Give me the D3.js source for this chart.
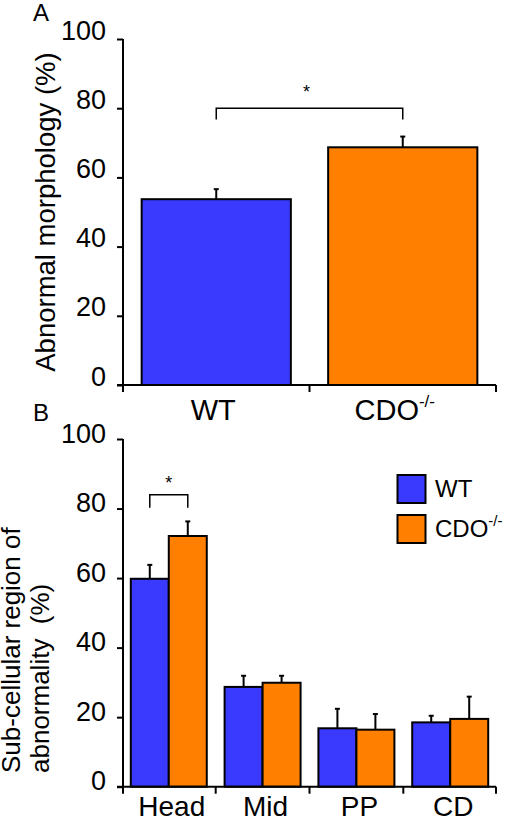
<!DOCTYPE html>
<html><head><meta charset="utf-8">
<script src="https://cdn.jsdelivr.net/npm/d3@7"></script>
<style>body{margin:0;background:#fff}text{font-family:"Liberation Sans",Arial,sans-serif;fill:#000}</style>
</head><body><svg id="c" width="509" height="820"></svg>
<script>
// Panel A data
const groupsA = ["WT", "CDO"];
const valuesA = [53.7, 68.7];
const errorsA = [2.9, 3.1];
// Panel B data
const categoriesB = ["Head", "Mid", "PP", "CD"];
const seriesB = ["WT", "CDO"];
const wtB = [59.8, 28.7, 16.8, 18.5];
const cdoB = [72.1, 29.9, 16.4, 19.5];
const wtErrB = [4.0, 3.2, 5.6, 1.9];
const cdoErrB = [4.2, 2.0, 4.5, 6.4];
const yTicks = [0, 20, 40, 60, 80, 100];
const colors = {WT: "#3a3aff", CDO: "#ff8000"};

const svg = d3.select("#c");

function supLabel(sel, base, sup, supSize) {
  sel.text(null);
  sel.append("tspan").text(base);
  if (sup) sel.append("tspan").attr("font-size", supSize).attr("dy", -supSize * 0.75).text(sup);
}

function yAxis(y, labelDy, x0, bottomExt) {
  const g = svg.append("g").attr("transform", `translate(${x0},0)`)
    .call(d3.axisLeft(y).tickValues(yTicks).tickSize(6).tickSizeOuter(0).tickPadding(11));
  g.select(".domain").remove();
  g.selectAll(".tick line").attr("stroke", "#000").attr("stroke-width", 2);
  g.selectAll(".tick text").attr("font-size", 27).attr("dy", labelDy)
    .attr("font-family", "Liberation Sans, Arial, sans-serif");
  svg.append("line").attr("x1", x0).attr("x2", x0).attr("y1", y(100)).attr("y2", y(0) + bottomExt)
    .attr("stroke", "#000").attr("stroke-width", 2);
}

// ---------- Panel A ----------
const xA = d3.scaleBand().domain(groupsA).range([123, 496]).paddingInner(0.2).paddingOuter(0.1);
const yA = d3.scaleLinear().domain([0, 100]).range([385, 39]);

groupsA.forEach((g, i) => {
  const cx = xA(g) + xA.bandwidth() / 2;
  svg.append("line").attr("x1", cx).attr("x2", cx).attr("y1", yA(valuesA[i])).attr("y2", yA(valuesA[i] + errorsA[i]))
    .attr("stroke", "#000").attr("stroke-width", 2);
  svg.append("line").attr("x1", cx - 2.5).attr("x2", cx + 2.5).attr("y1", yA(valuesA[i] + errorsA[i])).attr("y2", yA(valuesA[i] + errorsA[i]))
    .attr("stroke", "#000").attr("stroke-width", 2);
});
svg.append("g").selectAll("rect").data(groupsA).join("rect")
  .attr("x", d => xA(d)).attr("width", xA.bandwidth())
  .attr("y", (d, i) => yA(valuesA[i])).attr("height", (d, i) => yA(0) - yA(valuesA[i]))
  .attr("fill", d => colors[d]).attr("stroke", "#000").attr("stroke-width", 2);

yAxis(yA, "0em", 123, 7);
svg.append("line").attr("x1", 117).attr("x2", 496).attr("y1", yA(0)).attr("y2", yA(0)).attr("stroke", "#000").attr("stroke-width", 2);
[...groupsA.map(g => xA(g) - xA.step() * xA.paddingInner() / 2), 496].forEach((b, i) => {
  if (i === 0) return;
  svg.append("line").attr("x1", b).attr("x2", b).attr("y1", yA(0)).attr("y2", yA(0) + 7).attr("stroke", "#000").attr("stroke-width", 2);
});
const xLabA = ["WT", "CDO"];
const supA = ["", "-/-"];
xLabA.forEach((t, i) => {
  const tx = svg.append("text").attr("x", xA(groupsA[i]) + xA.bandwidth() / 2 - (i ? 8 : 3)).attr("y", 420)
    .attr("text-anchor", "middle").attr("font-size", 29);
  supLabel(tx, t, supA[i], 17);
});
// bracket A
(() => {
  const x1 = xA("WT") + xA.bandwidth() / 2, x2 = xA("CDO") + xA.bandwidth() / 2;
  svg.append("path").attr("d", `M${x1},${yA(76.7)}V${yA(80)}H${x2}V${yA(76.7)}`)
    .attr("fill", "none").attr("stroke", "#000").attr("stroke-width", 1.5);
  svg.append("text").attr("x", (x1 + x2) / 2 - 3).attr("y", yA(80) - 10).attr("text-anchor", "middle").attr("font-size", 18).text("*");
})();
svg.append("text").attr("transform", `translate(55,${212}) rotate(-90)`).attr("text-anchor", "middle")
  .attr("font-size", 27.5).text("Abnormal morphology (%)");
svg.append("text").attr("x", 33).attr("y", 21).attr("font-size", 24).text("A");

// ---------- Panel B ----------
const xB = d3.scaleBand().domain(categoriesB).range([123, 496]).paddingInner(0.19).paddingOuter(0.083);
const xSub = d3.scaleBand().domain(seriesB).range([0, xB.bandwidth()]);
const yB = d3.scaleLinear().domain([0, 100]).range([786.7, 439]);
const rowsB = categoriesB.map((c, i) => ({c, vals: [
  {s: "WT", v: wtB[i], e: wtErrB[i]}, {s: "CDO", v: cdoB[i], e: cdoErrB[i]}]}));
const flat = rowsB.flatMap(r => r.vals.map(d => ({...d, c: r.c})));
const gB = svg.append("g");
flat.forEach(d => {
  const cx = xB(d.c) + xSub(d.s) + xSub.bandwidth() / 2;
  gB.append("line").attr("x1", cx).attr("x2", cx).attr("y1", yB(d.v)).attr("y2", yB(d.v + d.e)).attr("stroke", "#000").attr("stroke-width", 2);
  gB.append("line").attr("x1", cx - 2.5).attr("x2", cx + 2.5).attr("y1", yB(d.v + d.e)).attr("y2", yB(d.v + d.e)).attr("stroke", "#000").attr("stroke-width", 2);
});
gB.selectAll("rect").data(flat).join("rect")
  .attr("x", d => xB(d.c) + xSub(d.s)).attr("width", xSub.bandwidth())
  .attr("y", d => yB(d.v)).attr("height", d => yB(0) - yB(d.v))
  .attr("fill", d => colors[d.s]).attr("stroke", "#000").attr("stroke-width", 2);

yAxis(yB, "0.12em", 123, 7);
svg.append("line").attr("x1", 117).attr("x2", 496).attr("y1", yB(0)).attr("y2", yB(0)).attr("stroke", "#000").attr("stroke-width", 2);
categoriesB.forEach((c, i) => {
  const b = i < categoriesB.length - 1 ? xB(categoriesB[i + 1]) - xB.step() * xB.paddingInner() / 2 : 496;
  svg.append("line").attr("x1", b).attr("x2", b).attr("y1", yB(0)).attr("y2", yB(0) + 7).attr("stroke", "#000").attr("stroke-width", 2);
});
const gxB = svg.append("g").attr("transform", `translate(0,${yB(0)})`)
  .call(d3.axisBottom(xB).tickSize(0).tickPadding(0));
gxB.select(".domain").remove();
gxB.selectAll("text").attr("font-size", 28).attr("dy", 0).attr("y", 29.5).attr("dx", 3)
  .attr("font-family", "Liberation Sans, Arial, sans-serif");
// bracket B
(() => {
  const x1 = xB("Head") + xSub("WT") + xSub.bandwidth() / 2, x2 = xB("Head") + xSub("CDO") + xSub.bandwidth() / 2;
  svg.append("path").attr("d", `M${x1},${yB(80.2)}V${yB(84)}H${x2}V${yB(80.2)}`)
    .attr("fill", "none").attr("stroke", "#000").attr("stroke-width", 1.5);
  svg.append("text").attr("x", (x1 + x2) / 2).attr("y", yB(84) - 6).attr("text-anchor", "middle").attr("font-size", 18).text("*");
})();
// y label B
const lb = svg.append("text").attr("transform", "translate(0,773) rotate(-90)").attr("font-size", 26).attr("text-anchor", "start");
lb.append("tspan").attr("x", 0).attr("y", 20).text("Sub-cellular region of");
lb.append("tspan").attr("x", 0).attr("y", 49).attr("xml:space", "preserve").style("white-space", "pre").text("abnormality  (%)");
svg.append("text").attr("x", 33).attr("y", 421).attr("font-size", 24).text("B");
// legend
const legY = [475, 515];
seriesB.forEach((s, i) => {
  svg.append("rect").attr("x", 397.5).attr("y", legY[i]).attr("width", 28).attr("height", 28)
    .attr("fill", colors[s]).attr("stroke", "#000").attr("stroke-width", 2);
  const t = svg.append("text").attr("x", 435).attr("y", legY[i] + 22).attr("font-size", 24);
  supLabel(t, s, i ? "-/-" : "", 15);
});
</script></body></html>
